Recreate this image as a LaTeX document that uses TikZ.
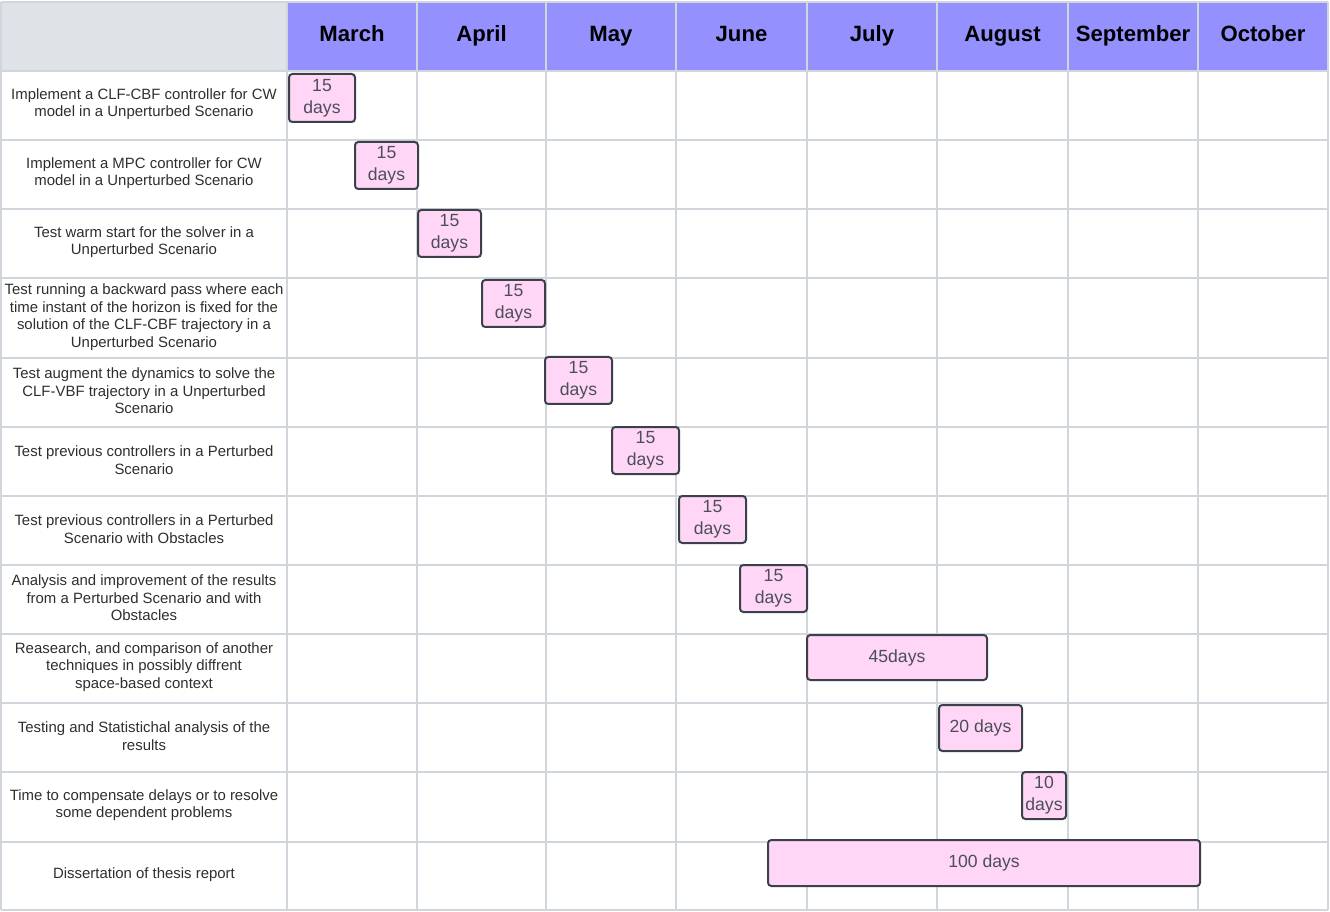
\documentclass[tikz,border=0pt]{standalone}
\usepackage{fontspec}
\setmainfont{Liberation Sans}
\definecolor{hdrpurple}{HTML}{9491FF}
\definecolor{hdrgray}{HTML}{DFE2E6}
\definecolor{gridc}{HTML}{D1D6DD}
\definecolor{barfill}{HTML}{FFD6F6}
\definecolor{bardraw}{HTML}{3B4049}
\definecolor{bartext}{HTML}{4B4F58}
\definecolor{labtext}{HTML}{2E2E2E}
\newcommand\ganttbar[6]{%
  \node[ganttbox, minimum width={(#3-#1)*0.75pt}, minimum height={(#4-#2)*0.75pt}]
    (#6) at ({(#1+#3)/2},{(#2+#4)/2}) {#5};}
\begin{document}
\begin{tikzpicture}[x=0.75pt,y=-0.75pt,
  gridline/.style={draw=gridc, line width=1.2pt},
  ganttbox/.style={draw=bardraw, fill=barfill, line width=1.5pt, rounded corners=2.5pt,
    inner sep=0pt, align=center, text=bartext, font=\fontsize{13.2}{16.5}\selectfont},
  rowlabel/.style={align=center, text=labtext, font=\fontsize{11.2}{13.1}\selectfont, inner sep=0pt},
  monthlabel/.style={anchor=base, font=\fontsize{16.6}{19}\selectfont\bfseries, text=black, inner sep=0pt}]
\useasboundingbox (0,0) rectangle (1330,912);
% header fills
\fill[hdrgray] (1,2) rectangle (287,71);
\fill[hdrpurple] (287,2) rectangle (1328,71);
% grid
\foreach \yy in {2,71,140,209,278,358,427,496,565,634,703,772,842,910}
  \draw[gridline] (1,\yy) -- (1328,\yy);
\foreach \xx in {1,287,417,546,676,807,937,1068,1198,1328}
  \draw[gridline] (\xx,2) -- (\xx,910);
% month headers
\node[monthlabel] (m1) at (352,42) {March};
\node[monthlabel] (m2) at (481.5,42) {April};
\node[monthlabel] (m3) at (611,42) {May};
\node[monthlabel] (m4) at (741.5,42) {June};
\node[monthlabel] (m5) at (872,42) {July};
\node[monthlabel] (m6) at (1002.5,42) {August};
\node[monthlabel] (m7) at (1133,42) {September};
\node[monthlabel] (m8) at (1263,42) {October};
% row labels
\node[rowlabel] (r1) at (144,104) {Implement a CLF-CBF controller for CW\\model in a Unperturbed Scenario};
\node[rowlabel] (r2) at (144,173) {Implement a MPC controller for CW\\model in a Unperturbed Scenario};
\node[rowlabel] (r3) at (144,242) {Test warm start for the solver in a\\Unperturbed Scenario};
\node[rowlabel] (r4) at (144,317) {Test running a backward pass where each\\time instant of the horizon is fixed for the\\solution of the CLF-CBF trajectory in a\\Unperturbed Scenario};
\node[rowlabel] (r5) at (144,391) {Test augment the dynamics to solve the\\CLF-VBF trajectory in a Unperturbed\\Scenario};
\node[rowlabel] (r6) at (144,460) {Test previous controllers in a Perturbed\\Scenario};
\node[rowlabel] (r7) at (144,529) {Test previous controllers in a Perturbed\\Scenario with Obstacles};
\node[rowlabel] (r8) at (144,598) {Analysis and improvement of the results\\from a Perturbed Scenario and with\\Obstacles};
\node[rowlabel] (r9) at (144,667) {Reasearch, and comparison of another\\techniques in possibly diffrent\\space-based context};
\node[rowlabel] (r10) at (144,736) {Testing and Statistichal analysis of the\\results};
\node[rowlabel] (r11) at (144,805) {Time to compensate delays or to resolve\\some dependent problems};
\node[rowlabel] (r12) at (144,875) {Dissertation of thesis report};
% bars
\ganttbar{289}{74}{355}{122}{15\\days}{b1}
\ganttbar{355}{142}{418}{189}{15\\days}{b2}
\ganttbar{418}{210}{481}{257}{15\\days}{b3}
\ganttbar{482}{280}{545}{327}{15\\days}{b4}
\ganttbar{545}{357}{612}{404}{15\\days}{b5}
\ganttbar{612}{427}{679}{474}{15\\days}{b6}
\ganttbar{679}{496}{746}{543}{15\\days}{b7}
\ganttbar{740}{565}{807}{612}{15\\days}{b8}
\ganttbar{807}{635}{987}{680}{45days}{b9}
\ganttbar{939}{705}{1022}{751}{20 days}{b10}
\ganttbar{1022}{772}{1066}{819}{10\\days}{b11}
\ganttbar{768}{840}{1200}{886}{100 days}{b12}
\end{tikzpicture}
\end{document}
